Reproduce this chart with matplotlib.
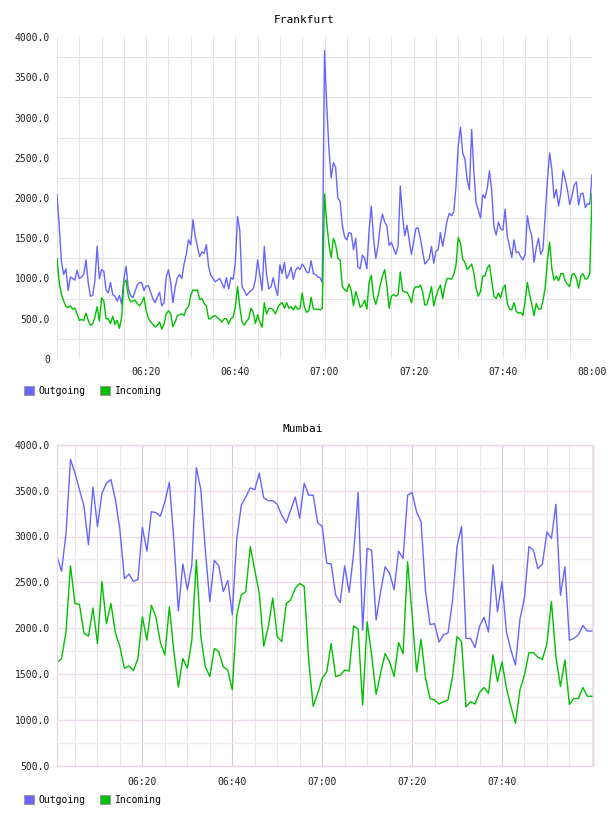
import matplotlib
matplotlib.use("Agg")
import matplotlib.pyplot as plt
import matplotlib.dates as mdates
from matplotlib.patches import Patch
from matplotlib.ticker import FixedLocator, FuncFormatter
import pandas as pd

# Frankfurt: one sample every 30 s, 06:00 - 08:00
FRA_OUT = [2040, 1650, 1200, 1050, 1120, 850, 1020, 1000, 980, 1100,
           1000, 1020, 1050, 1230, 950, 780, 790, 970, 1400, 1000,
           1110, 1090, 860, 820, 950, 800, 780, 720, 790, 680,
           1000, 1150, 870, 790, 760, 840, 920, 950, 950, 850,
           910, 910, 830, 750, 700, 770, 830, 660, 700, 1020,
           1110, 950, 700, 890, 1010, 1050, 1000, 1180, 1300, 1480,
           1420, 1730, 1520, 1400, 1270, 1330, 1310, 1420, 1150, 1040,
           1000, 960, 980, 1000, 940, 880, 1010, 870, 1010, 990,
           1200, 1770, 1600, 900, 850, 790, 820, 850, 870, 980,
           1230, 1050, 850, 1400, 1050, 870, 895, 1010, 880, 790,
           1170, 1060, 1200, 1000, 1050, 1140, 990, 1100, 1140, 1110,
           1180, 1140, 1080, 1070, 1220, 1060, 1050, 1020, 1010, 950,
           3830, 3150, 2600, 2250, 2440, 2380, 2000, 1960, 1660, 1520,
           1480, 1570, 1560, 1360, 1500, 1140, 1120, 1290, 1250, 1120,
           1600, 1900, 1500, 1250, 1400, 1660, 1800, 1700, 1650, 1410,
           1450, 1370, 1300, 1400, 2150, 1780, 1530, 1660, 1480, 1300,
           1460, 1620, 1630, 1500, 1340, 1180, 1210, 1250, 1400, 1190,
           1340, 1360, 1570, 1400, 1550, 1720, 1810, 1780, 1830, 2150,
           2650, 2880, 2560, 2480, 2230, 2100, 2850, 2330, 1940, 1850,
           1750, 2040, 2000, 2120, 2340, 2090, 1640, 1540, 1700, 1620,
           1600, 1860, 1520, 1400, 1260, 1480, 1320, 1330, 1270, 1230,
           1300, 1780, 1620, 1530, 1200, 1380, 1500, 1300, 1360, 1780,
           2220, 2560, 2350, 2000, 2110, 1900, 2060, 2340, 2230, 2100,
           1920, 2020, 2160, 2200, 1915, 2050, 2060, 1880, 1930, 1920,
           2290]
FRA_IN = [1250, 950, 800, 720, 650, 640, 660, 620, 630, 560,
          480, 490, 480, 570, 480, 420, 435, 520, 650, 470,
          760, 720, 500, 500, 440, 530, 430, 480, 380, 520,
          950, 980, 780, 710, 720, 730, 690, 660, 700, 770,
          600, 510, 460, 430, 400, 415, 460, 370, 435, 560,
          600, 560, 400, 460, 540, 550, 560, 540, 620, 650,
          790, 860, 850, 860, 740, 750, 690, 660, 500, 500,
          530, 540, 510, 490, 460, 500, 500, 435, 500, 520,
          645, 900, 650, 460, 420, 470, 500, 630, 580, 440,
          550, 460, 395, 700, 560, 625, 630, 610, 560, 640,
          680, 700, 630, 700, 630, 650, 610, 660, 615, 630,
          820, 640, 580, 600, 765, 620, 620, 620, 610, 630,
          2050, 1700, 1420, 1260, 1500, 1420, 1250, 1230, 900, 860,
          840, 930, 850, 660, 840, 750, 640, 670, 730, 620,
          950, 1040, 770, 680, 780, 920, 1030, 1110, 900, 630,
          780, 800, 780, 800, 1080, 850, 830, 830, 780, 700,
          860, 900, 890, 920, 840, 670, 680, 780, 900, 660,
          770, 860, 920, 750, 900, 1000, 1000, 990, 1050, 1170,
          1510, 1440, 1240, 1200, 1110, 1140, 1180, 1070, 880, 780,
          840, 1030, 1030, 1130, 1170, 970, 780, 750, 820, 760,
          870, 920, 690, 620, 610, 700, 590, 570, 580, 540,
          720, 950, 800, 680, 540, 690, 620, 620, 720, 890,
          1230, 1450, 1120, 980, 1030, 970, 1060, 1060, 970, 930,
          900, 1050, 1060, 1000, 880, 1030, 1060, 990, 1000, 1060,
          2050]

# Mumbai: one sample per minute, 06:01 - 08:00
MUM_OUT = [2790, 2620, 3030, 3840, 3690, 3510, 3330, 2910, 3540, 3110,
           3470, 3580, 3620, 3400, 3070, 2540, 2590, 2510, 2530, 3100,
           2840, 3270, 3260, 3220, 3380, 3590, 2960, 2190, 2700, 2420,
           2690, 3750, 3510, 2850, 2290, 2740, 2680, 2400, 2520, 2150,
           2980, 3340, 3430, 3530, 3510, 3690, 3420, 3390, 3390, 3350,
           3230, 3150, 3290, 3430, 3200, 3580, 3450, 3450, 3150, 3110,
           2710, 2700, 2360, 2280, 2680, 2390, 2820, 3480, 1980, 2870,
           2850, 2090, 2400, 2670, 2600, 2420, 2840, 2760, 3450, 3480,
           3270, 3160, 2400, 2040, 2050, 1850, 1930, 1950, 2300, 2890,
           3110, 1890, 1890, 1790, 2020, 2120, 1960, 2690, 2180, 2510,
           1960, 1760, 1600, 2100, 2330, 2890, 2850, 2650, 2700, 3050,
           2980, 3350, 2360, 2670, 1870, 1890, 1930, 2030, 1970, 1970]
MUM_IN = [1625, 1670, 1960, 2680, 2270, 2260, 1945, 1915, 2220, 1835,
          2510, 2050, 2270, 1950, 1800, 1565, 1590, 1540, 1670, 2125,
          1870, 2250, 2125, 1845, 1710, 2235, 1745, 1360, 1670, 1565,
          1870, 2745, 1910, 1580, 1475, 1780, 1745, 1580, 1545, 1330,
          2145, 2365, 2400, 2890, 2635, 2380, 1805, 2015, 2330, 1910,
          1855, 2270, 2310, 2435, 2490, 2455, 1650, 1150, 1290, 1455,
          1525, 1835, 1475, 1490, 1545, 1535, 2025, 1990, 1165, 2070,
          1710, 1280, 1510, 1725, 1635, 1475, 1845, 1725, 2725, 2150,
          1525, 1880, 1455, 1235, 1220, 1175, 1200, 1220, 1475, 1910,
          1855, 1145, 1200, 1175, 1300, 1355, 1290, 1710, 1420, 1635,
          1345, 1145, 965, 1330, 1490, 1735, 1735, 1685, 1660, 1835,
          2290, 1690, 1365, 1655, 1170, 1235, 1235, 1355, 1260, 1260]

FRA_XTICKS = ["06:20", "06:40", "07:00", "07:20", "07:40", "08:00"]
MUM_XTICKS = ["06:20", "06:40", "07:00", "07:20", "07:40"]
SERIES = ["Outgoing", "Incoming"]

DAY = "2013-01-01 "
fra_time = pd.date_range(DAY + "06:00", periods=len(FRA_OUT), freq="30s")
mum_time = pd.date_range(DAY + "06:01", periods=len(MUM_OUT), freq="1min")

BLUE = "#6666ff"
GREEN = "#00c000"
W, H = 608, 816

plt.rcParams["font.family"] = "DejaVu Sans Mono"
fig = plt.figure(figsize=(W / 100, H / 100), dpi=100)


def yfmt(v, pos):
    return "0" if v == 0 else f"{v:.1f}"


def t(s):
    return pd.Timestamp(DAY + s)


def style_axis(ax, xticks, ymin, xpad):
    ax.set_xticks([t(s) for s in xticks])
    ax.set_xticklabels(xticks)
    ax.xaxis.set_minor_locator(mdates.MinuteLocator(byminute=range(0, 60, 5)))
    ax.yaxis.set_major_locator(FixedLocator(range(ymin, 4001, 500)))
    ax.yaxis.set_major_formatter(FuncFormatter(yfmt))
    ax.set_ylim(ymin, 4000)
    ax.tick_params(which="both", length=0, labelsize=7, colors="#222222")
    ax.tick_params(axis="y", pad=5)
    ax.tick_params(axis="x", pad=xpad)
    ax.set_axisbelow(True)


def legend_at(ypix):
    handles = [Patch(facecolor=BLUE, edgecolor="#999999", lw=0.8),
               Patch(facecolor=GREEN, edgecolor="#999999", lw=0.8)]
    fig.legend(handles, SERIES, loc="upper left",
               bbox_to_anchor=(24 / W, 1 - ypix / H), ncol=2, frameon=False,
               fontsize=7, handlelength=1.0, handleheight=1.0,
               handletextpad=0.5, columnspacing=1.5, borderpad=0,
               borderaxespad=0)


# ---- Frankfurt ----
ax1 = fig.add_axes([57 / W, 1 - 359 / H, 535 / W, 322 / H])
ax1.plot(fra_time, FRA_OUT, color=BLUE, lw=1.0)
ax1.plot(fra_time, FRA_IN, color=GREEN, lw=1.0)
ax1.set_xlim(t("06:00"), t("08:00"))
style_axis(ax1, FRA_XTICKS, 0, 6)
ax1.yaxis.set_minor_locator(FixedLocator(range(250, 4000, 500)))
ax1.grid(True, which="both", axis="x", color="#e3e3e3", lw=0.8)
ax1.grid(True, which="minor", axis="y", color="#e3e3e3", lw=0.8)
for s in ax1.spines.values():
    s.set_visible(False)
fig.text(304 / W, 1 - 20 / H, "Frankfurt", ha="center", va="center", fontsize=8)
legend_at(386)

# ---- Mumbai ----
ax2 = fig.add_axes([57 / W, 1 - 766 / H, 536 / W, 321.3 / H])
ax2.plot(mum_time, MUM_OUT, color=BLUE, lw=1.0)
ax2.plot(mum_time, MUM_IN, color=GREEN, lw=1.0)
ax2.set_xlim(t("06:01"), t("08:00") + pd.Timedelta(seconds=15))
style_axis(ax2, MUM_XTICKS, 500, 8)
ax2.yaxis.set_minor_locator(FixedLocator(range(750, 4000, 500)))
ax2.grid(True, which="major", axis="x", color="#dcc6dc", lw=0.8)
ax2.grid(True, which="minor", axis="x", color="#ece2ec", lw=0.8)
ax2.grid(True, which="major", axis="y", color="#ecdcec", lw=1.0)
ax2.grid(True, which="minor", axis="y", color="#f3edf3", lw=1.0)
for s in ax2.spines.values():
    s.set_color("#e8d8e8")
    s.set_linewidth(1.0)
fig.text(303 / W, 1 - 429 / H, "Mumbai", ha="center", va="center", fontsize=8)
legend_at(795)

fig.savefig("out.png", dpi=100)
